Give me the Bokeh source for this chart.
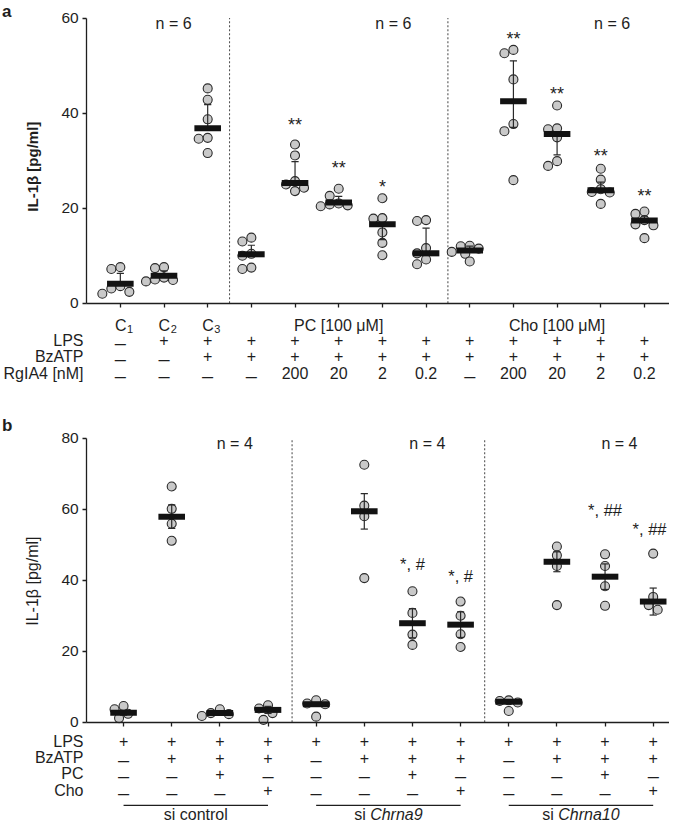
import numpy as np
from bokeh.plotting import figure
from bokeh.layouts import column
from bokeh.models import LinearAxis, FixedTicker
from bokeh.core.properties import value
from bokeh.embed import file_html
from bokeh.resources import INLINE

# ---------------- data: panel a ----------------
a_cat = ["C1", "C2", "C3"]
a_sections = [(3, 7, "PC [100 μM]"), (8, 12, "Cho [100 μM]")]
a_row_names = ["LPS", "BzATP", "RgIA4 [nM]"]
a_lps = ["–", "+", "+", "+", "+", "+", "+", "+", "+", "+", "+", "+", "+"]
a_bzatp = ["–", "–", "+", "+", "+", "+", "+", "+", "+", "+", "+", "+", "+"]
a_rgia4 = ["–", "–", "–", "–", "200", "20", "2", "0.2", "–", "200", "20", "2", "0.2"]
a_points = [
    [7.2, 7.6, 2.0, 3.1, 3.6, 2.4],
    [7.4, 7.6, 4.9, 5.0, 4.6, 5.4],
    [45.2, 42.8, 38.7, 34.6, 34.8, 31.6],
    [13.0, 13.8, 7.5, 7.2, 10.0, 10.4],
    [33.4, 31.1, 25.7, 24.3, 23.6, 25.0],
    [24.1, 22.6, 21.0, 20.6, 20.4, 20.8],
    [22.1, 17.8, 17.9, 14.9, 12.7, 10.1],
    [17.3, 17.5, 11.6, 9.2, 8.2, 10.5],
    [12.0, 12.1, 10.4, 10.8, 8.8, 11.5],
    [53.3, 52.6, 47.1, 37.7, 36.2, 25.9],
    [41.6, 36.6, 36.8, 34.9, 29.9, 28.9],
    [28.3, 26.0, 23.3, 23.4, 20.9, 24.0],
    [18.8, 19.3, 16.4, 16.6, 13.7, 17.5],
]
a_mean = [4.1, 5.8, 36.8, 10.3, 25.3, 21.2, 16.6, 10.5, 11.1, 42.5, 35.6, 23.8, 17.4]
a_err_hi = [2.2, 1.0, 5.0, 1.9, 4.5, 1.3, 0.0, 5.3, 0.9, 8.5, 0.0, 1.7, 0.9]
a_err_lo = [0.0, 0.0, 0.0, 0.0, 0.0, 0.0, 3.2, 0.0, 0.0, 5.5, 4.4, 0.0, 0.0]
a_sig = ["", "", "", "", "**", "**", "*", "", "", "**", "**", "**", "**"]
a_sig_level = [0, 0, 0, 0, 38.4, 29.4, 25.3, 0, 0, 56.5, 44.9, 31.8, 23.4]
a_n_text = ["n = 6", "n = 6", "n = 6"]
a_yticks = [0, 20, 40, 60]

# ---------------- data: panel b ----------------
b_row_names = ["LPS", "BzATP", "PC", "Cho"]
b_lps = ["+"] * 12
b_bzatp = ["–", "+", "+", "+"] * 3
b_pc = ["–", "–", "+", "–"] * 3
b_cho = ["–", "–", "–", "+"] * 3
b_sections = [(0, 3, "si", "control", False), (4, 7, "si", "Chrna9", True), (8, 11, "si", "Chrna10", True)]
b_points = [
    [3.7, 4.6, 1.2, 2.4],
    [66.4, 60.1, 55.9, 51.1],
    [2.3, 2.6, 3.7, 1.8],
    [4.8, 2.6, 3.9, 0.7],
    [5.3, 6.2, 1.6, 5.1],
    [72.5, 61.0, 58.0, 40.6],
    [36.9, 30.8, 24.7, 21.8],
    [34.0, 30.0, 24.8, 21.2],
    [6.0, 6.2, 3.2, 5.6],
    [49.5, 47.0, 44.0, 33.0],
    [47.3, 44.0, 38.3, 32.8],
    [47.5, 35.3, 33.0, 31.7],
]
b_mean = [2.7, 57.9, 2.6, 3.5, 5.1, 59.4, 27.9, 27.5, 5.8, 45.2, 41.0, 34.0]
b_sem = [0.7, 3.3, 0.4, 1.0, 0.5, 5.0, 4.1, 3.6, 0.5, 2.8, 3.6, 3.8]
b_sig = ["", "", "", "", "", "", "*, #", "*, #", "", "", "*, ##", "*, ##"]
b_sig_level = [0, 0, 0, 0, 0, 0, 44.7, 41.2, 0, 0, 59.8, 54.3]
b_n_text = ["n = 4", "n = 4", "n = 4"]
b_yticks = [0, 20, 40, 60, 80]

# ---------------- layout helpers ----------------
FONT = value("Liberation Sans")
INK = "#1e1e1e"
DASH = "–"
W = 669
S = W / 685.0
TF = "16px"

EM = {'s': 0.5, 'i': 0.222, ' ': 0.278, 'C': 0.722, 'h': 0.556, 'r': 0.333, 'n': 0.556,
      'a': 0.556, '0': 0.556, '1': 0.556, '9': 0.556, 'c': 0.5, 'o': 0.556, 't': 0.278,
      'l': 0.222, '*': 0.389, ',': 0.278, '#': 0.556}


def text_w(s, px):
    return sum(EM.get(ch, 0.556) for ch in s) * px


class Panel:
    def __init__(self, fig_h, ref_top, ref_x0, ref_dx, ref_y0, ref_dy):
        self.ref_top, self.x0, self.dx, self.y0, self.dy = ref_top, ref_x0, ref_dx, ref_y0, ref_dy
        self.xs = (0 - ref_x0) / ref_dx
        self.xe = (W / S - ref_x0) / ref_dx
        ye = (ref_y0 - ref_top) / ref_dy
        ys = (ref_y0 - ref_top - fig_h / S) / ref_dy
        self.pxi = ref_dx * S
        self.pxv = ref_dy * S
        p = figure(width=W, height=fig_h, x_range=(self.xs, self.xe), y_range=(ys, ye),
                   x_axis_location=None, y_axis_location=None,
                   toolbar_location=None, output_backend="svg", min_border=0)
        p.outline_line_color = None
        p.background_fill_color = "white"
        p.border_fill_color = "white"
        p.grid.visible = False
        p.xgrid.grid_line_color = None
        p.ygrid.grid_line_color = None
        self.p = p

    def i(self, rx):
        return (rx - self.x0) / self.dx

    def v(self, ry):
        return (self.y0 - ry) / self.dy

    def text(self, xs, ys, texts, size=TF, align="center", baseline="middle",
             style="normal", x_offset=0, angle=0):
        self.p.text(x=list(xs), y=list(ys), text=list(texts), text_font=FONT,
                    text_font_size=size, text_align=align, text_baseline=baseline,
                    text_font_style=style, x_offset=x_offset, angle=angle, text_color=INK)

    def _style(self, ax):
        ax.axis_line_color = INK
        ax.axis_line_width = 1.3
        ax.major_tick_in = 4
        ax.major_tick_out = 0
        ax.major_tick_line_color = INK
        ax.major_tick_line_width = 1.3
        ax.minor_tick_line_color = None
        ax.major_label_text_font_size = "0px"
        ax.major_label_standoff = 0
        ax.major_label_overrides = {t: "" for t in ax.ticker.ticks}
        return ax

    def axes(self, n_groups, yticks):
        axis_i = self.i(88)
        xax = LinearAxis(fixed_location=0, ticker=FixedTicker(ticks=list(range(n_groups))),
                         bounds=(axis_i, self.xe))
        yax = LinearAxis(fixed_location=axis_i, ticker=FixedTicker(ticks=yticks),
                         bounds=(0, yticks[-1]))
        self.p.add_layout(self._style(xax), "above")
        self.p.add_layout(self._style(yax), "right")
        self.text([axis_i] * len(yticks), yticks, [str(t) for t in yticks], size="15.5px",
                  align="right", x_offset=-8 * S)

    def dividers(self, xs, ytop):
        self.p.segment(x0=xs, y0=[0] * len(xs), x1=xs, y1=[ytop] * len(xs),
                       line_color="#555555", line_width=1.1, line_dash="2 2")

    def swarm(self, vals, diam=9.0):
        order = np.argsort(vals)[::-1]
        placed = []
        offs = [0.0] * len(vals)
        cands = [0, -0.5, 0.5, -1.0, 1.0, -1.5, 1.5, -2.0, 2.0]
        for k in order:
            yk = vals[k] * self.pxv
            xk = 0.0
            for c in cands:
                xk = c * diam
                if all((xk - xp) ** 2 + (yk - yp) ** 2 >= (diam * 0.95) ** 2 for xp, yp in placed):
                    break
            placed.append((xk, yk))
            offs[k] = xk / self.pxi
        return offs

    def data(self, points, means, hi, lo):
        xs, ys = [], []
        for g, vals in enumerate(points):
            offs = self.swarm(vals)
            xs += [g + o for o in offs]
            ys += list(vals)
        self.p.scatter(x=xs, y=ys, size=9, marker="circle", fill_color="#c9c9c9",
                       line_color="#2a2a2a", line_width=1.1)
        ex, ey0, ey1 = [], [], []
        for g, (m, h, l) in enumerate(zip(means, hi, lo)):
            for e in (h, -l):
                if e != 0:
                    ex.append(g)
                    ey0.append(m)
                    ey1.append(m + e)
        cap = 3.6 / self.pxi
        self.p.segment(x0=ex, y0=ey0, x1=ex, y1=ey1, line_color="#2a2a2a", line_width=1.2)
        self.p.segment(x0=[x - cap for x in ex], y0=ey1, x1=[x + cap for x in ex], y1=ey1,
                       line_color="#2a2a2a", line_width=1.2)
        hw = 13.3 / self.pxi
        gi = np.arange(len(means))
        self.p.segment(x0=gi - hw, y0=means, x1=gi + hw, y1=means, line_color="#121212",
                       line_width=6, line_cap="butt")

    def sig(self, labels, levels, size_px, star_shift_px):
        for g, s in enumerate(labels):
            if not s:
                continue
            cx = (g - self.xs) * self.pxi
            half = text_w(s, size_px) / 2
            off = min(0.0, (W - 3) - (cx + half))
            self.text([g], [levels[g] - star_shift_px / self.pxv], [s], size=f"{size_px}px",
                      x_offset=off)

    def rows(self, names, rows, row_refy, label_refx=85):
        for name, entries, ry in zip(names, rows, row_refy):
            yv = self.v(ry)
            self.text([self.i(label_refx)], [yv], [name], align="right")
            ox = [g for g, e in enumerate(entries) if e != DASH]
            dx = [g for g, e in enumerate(entries) if e == DASH]
            if ox:
                self.text(ox, [yv] * len(ox), [entries[g] for g in ox])
            if dx:
                self.text(dx, [yv - 2.5 / self.pxv] * len(dx), [DASH] * len(dx), size="20px")


# ---------------- panel a ----------------
A = Panel(410, 0, 122.7, 44.72, 310.0, 4.867)
A.axes(len(a_mean), a_yticks)
A.dividers([2.5, 7.5], a_yticks[-1])
A.data(a_points, a_mean, a_err_hi, a_err_lo)
A.sig(a_sig, a_sig_level, 18, 4.2)
A.text([1.22, 6.25, 11.26], [A.v(24)] * 3, a_n_text, size="16px")
cy = A.v(333)
A.text(range(len(a_cat)), [cy] * len(a_cat), [c[0] for c in a_cat], align="right", x_offset=6.3 * S)
A.text(range(len(a_cat)), [A.v(336.5)] * len(a_cat), [c[1:] for c in a_cat], size="11px",
       align="left", x_offset=6.8 * S)
A.text([(s0 + s1) / 2 for s0, s1, _ in a_sections], [cy] * len(a_sections),
       [t for _, _, t in a_sections])
A.rows(a_row_names, [a_lps, a_bzatp, a_rgia4], [348, 364.3, 381.7])
A.text([A.i(1.5)], [A.v(1.5)], ["a"], size="17px", align="left", baseline="top", style="bold")
A.text([A.i(32.7)], [A.v(168)], ["IL-1β  [pg/ml]"], size="15px", style="bold", angle=np.pi / 2)

# ---------------- panel b ----------------
B = Panel(413, 420, 126.0, 49.3, 739.3, 3.6375)
B.axes(len(b_mean), b_yticks)
B.dividers([3.5, 7.5], b_yticks[-1])
B.data(b_points, b_mean, b_sem, b_sem)
B.sig(b_sig, b_sig_level, 16.5, 0.0)
B.text([2.31, 6.31, 10.3], [B.v(454)] * 3, b_n_text, size="16px")
B.rows(b_row_names, [b_lps, b_bzatp, b_pc, b_cho], [758.7, 775.7, 792, 809])
uy = B.v(824.3)
B.p.segment(x0=[s0 for s0, *_ in b_sections], y0=[uy] * 3, x1=[s1 for _, s1, *_ in b_sections],
            y1=[uy] * 3, line_color=INK, line_width=1.1)
sy = B.v(834)
for s0, s1, pre, name, ital in b_sections:
    c = (s0 + s1) / 2
    fpx = 16.0
    total = text_w(pre + " " + name, fpx)
    split = -total / 2 + text_w(pre + " ", fpx)
    B.text([c], [sy], [pre + " "], align="right", x_offset=split)
    B.text([c], [sy], [name], align="left", x_offset=split, style="italic" if ital else "normal")
B.text([B.i(1.5)], [B.v(426)], ["b"], size="17px", align="left", baseline="top", style="bold")
B.text([B.i(33)], [B.v(594.7)], ["IL-1β [pg/ml]"], size="16px", angle=np.pi / 2)

layout = column(A.p, B.p, spacing=0)
open("out.html", "w").write(file_html(layout, INLINE))
